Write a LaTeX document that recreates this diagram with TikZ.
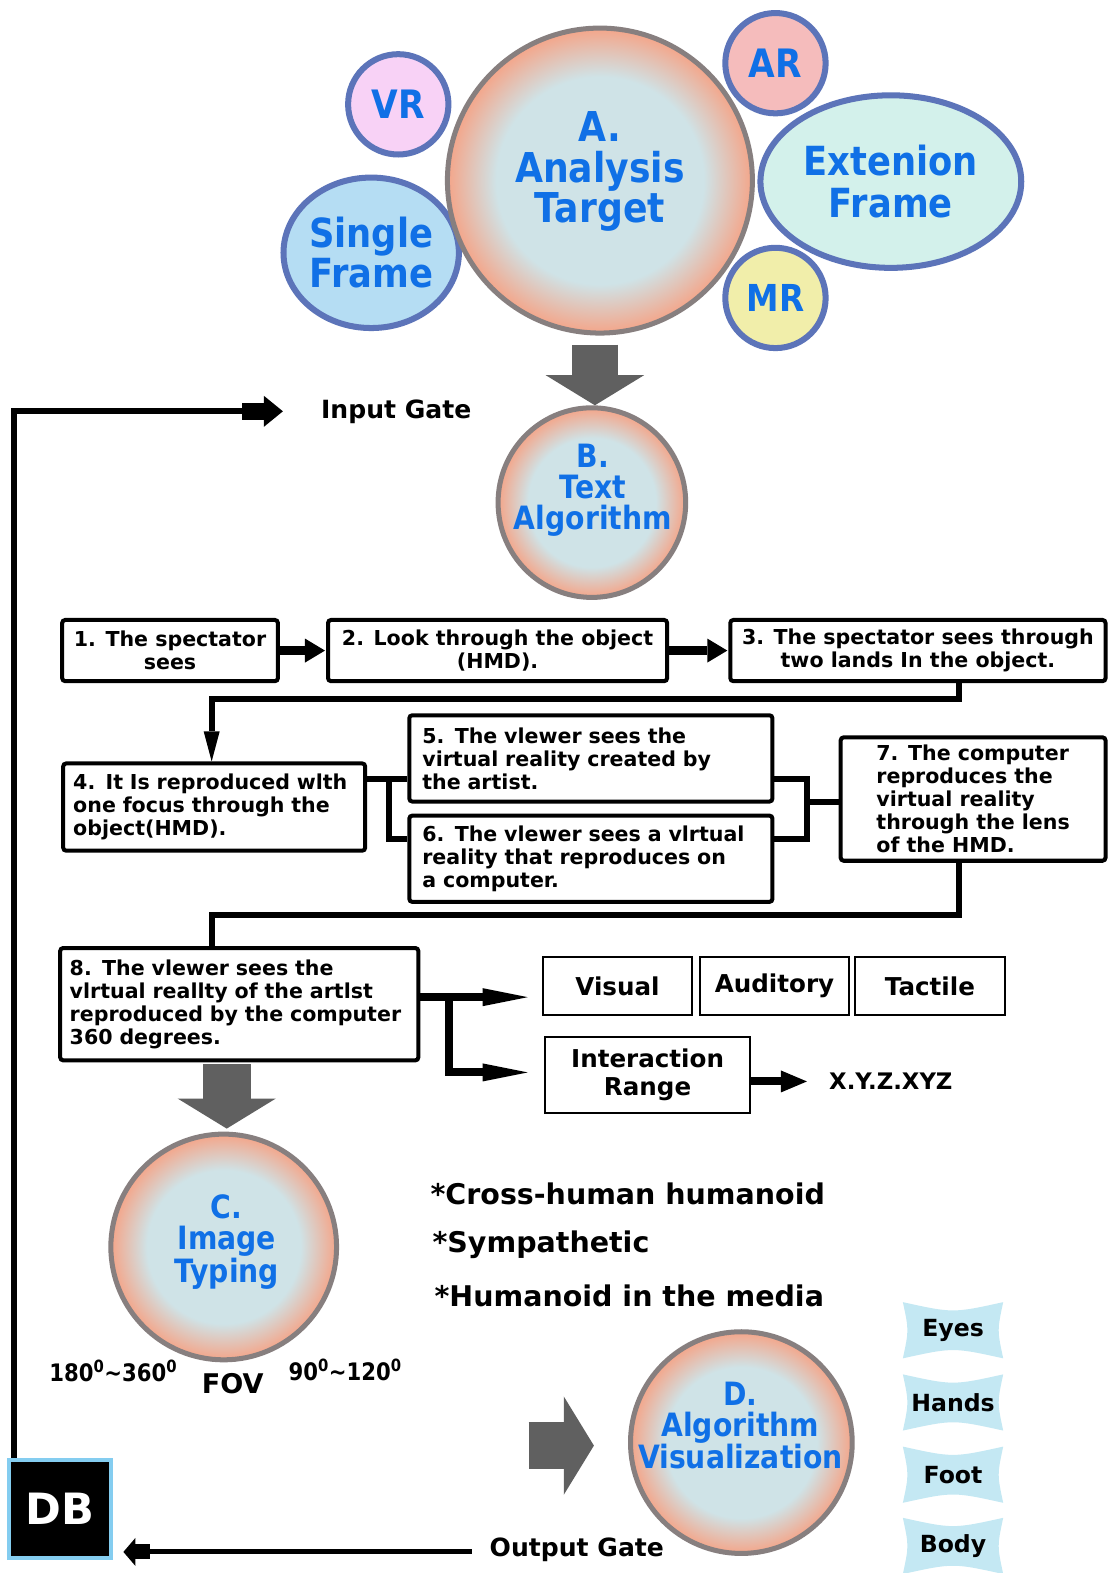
\documentclass[tikz,border=0pt]{standalone}
\usepackage{fontspec}
\setmainfont{DejaVu Sans}
\newfontfamily\headfont{DejaVu Sans}[FakeStretch=0.88]
\usetikzlibrary{arrows.meta,shapes.geometric}

\definecolor{ballin}{HTML}{CFE3E7}
\definecolor{ballout}{HTML}{F4A589}
\definecolor{ballrim}{HTML}{877F7F}
\definecolor{ringblue}{HTML}{5C74B9}
\definecolor{labelblue}{HTML}{1070E6}
\definecolor{vrpink}{HTML}{F8D2F6}
\definecolor{singleblue}{HTML}{B5DDF3}
\definecolor{arrose}{HTML}{F5BCBC}
\definecolor{extmint}{HTML}{D3F1EB}
\definecolor{mryellow}{HTML}{F1EEAA}
\definecolor{blockgray}{HTML}{606060}
\definecolor{tagblue}{HTML}{C4E8F3}
\definecolor{dbrim}{HTML}{84CDF0}

% light core fading into a salmon rim
\pgfdeclareradialshading{ballshade}{\pgfpoint{0bp}{0bp}}{color(0bp)=(ballin); color(17bp)=(ballin); color(25bp)=(ballout); color(50bp)=(ballout)}

% concave-sided tag: name, x, y, text
\newcommand\limbtag[4]{%
  \fill[tagblue] (#2-50,#3-28) .. controls (#2,#3-17) .. (#2+50,#3-28)
     .. controls (#2+44,#3) .. (#2+50,#3+28)
     .. controls (#2,#3+17) .. (#2-50,#3+28)
     .. controls (#2-44,#3) .. cycle;
  \node[tagtext] (#1) at (#2,#3) {#4};}

\begin{document}
\begin{tikzpicture}[x=1pt, y=-1pt,
  ball/.style={ellipse, draw=ballrim, line width=5pt, shading=ballshade, inner sep=0pt},
  bubble/.style={ellipse, draw=ringblue, line width=6pt, inner sep=0pt, text=labelblue, align=center},
  bigblue/.style={text=labelblue, align=center, inner sep=0pt, font=\headfont\bfseries\fontsize{41}{40}\selectfont},
  midblue/.style={text=labelblue, align=center, inner sep=0pt, font=\headfont\bfseries\fontsize{32}{31}\selectfont},
  stepbox/.style={draw=black, fill=white, line width=4pt, rounded corners=3pt, inner sep=0pt, font=\bfseries\fontsize{20.5}{23}\selectfont},
  sensebox/.style={draw=black, line width=2pt, inner sep=0pt, align=center, font=\bfseries\fontsize{24.5}{28}\selectfont},
  gatetext/.style={inner sep=0pt, font=\bfseries\fontsize{25}{28}\selectfont},
  listtext/.style={inner sep=0pt, anchor=west, font=\bfseries\fontsize{28.4}{30}\selectfont},
  fovtext/.style={inner sep=0pt, font=\headfont\bfseries\fontsize{24}{26}\selectfont},
  tagtext/.style={inner sep=0pt, font=\bfseries\fontsize{23.5}{26}\selectfont},
  conn/.style={draw=black, line width=6pt},
  fatarrow/.style={draw=black, line width=9pt, -{Triangle[length=20pt,width=24pt,line width=0pt]}},
  longarrow/.style={draw=black, line width=8pt, -{Triangle[length=45pt,width=18pt,line width=0pt]}},
  gatearrow/.style={draw=black, line width=6pt, -{Rectangle[length=22pt,width=17pt,sep=0pt,line width=0pt]Triangle[length=19pt,width=31pt,sep=0pt,line width=0pt]}},
  blockarrow/.style={draw=blockgray, line width=46pt, -{Triangle[length=30pt,width=98pt,line width=0pt]}}
]
\fill[white] (0,0) rectangle (1106,1568);
\useasboundingbox (0,0) rectangle (1106,1568);

% ---- analysis target cluster ----
\node[bubble, fill=vrpink, minimum width=100pt, minimum height=100pt, font=\headfont\bfseries\fontsize{39}{40}\selectfont] (VR) at (397,104) {VR};
\node[bubble, fill=singleblue, minimum width=152pt, minimum height=150pt, font=\headfont\bfseries\fontsize{40}{40}\selectfont] (single) at (370,252) {Single\\Frame};
\node[bubble, fill=arrose, minimum width=100pt, minimum height=100pt, font=\headfont\bfseries\fontsize{39}{40}\selectfont] (AR) at (773,63) {AR};
\node[bubble, fill=extmint, minimum width=260pt, minimum height=172pt, font=\headfont\bfseries\fontsize{40}{42}\selectfont] (ext) at (888,181) {Extenion\\Frame};
\node[bubble, fill=mryellow, minimum width=100pt, minimum height=100pt, font=\headfont\bfseries\fontsize{37}{40}\selectfont] (MR) at (773,297) {MR};
\node[ball, minimum width=304pt, minimum height=304pt] (A) at (598,180) {};
\node[bigblue] (Atext) at (598,171) {A.\\Analysis\\Target};

% ---- text algorithm ----
\node[ball, minimum width=187pt, minimum height=189pt] (B) at (590,501) {};
\node[midblue] (Btext) at (591,489) {B.\\Text\\Algorithm};
\coordinate (abx) at (593,374);
\draw[blockarrow, shorten <=9pt] (A.south -| abx) -- (B.north -| abx);

% ---- input gate ----
\node[gatetext] (ingate) at (395,410) {Input Gate};
\coordinate (inTip) at (282,410);
\coordinate (loopX) at (14,410);

% ---- process boxes ----
\node[stepbox, align=center, minimum width=215pt, minimum height=61pt] (s1) at (169.5,648.5) {1. The spectator\\sees};
\node[stepbox, align=center, minimum width=338pt, minimum height=61pt] (s2) at (496,648.5) {2. Look through the object\\(HMD).};
\node[stepbox, align=center, minimum width=374pt, minimum height=61pt] (s3) at (915,648.5) {3. The spectator sees through\\two lands In the object.};
\node[stepbox, align=left, minimum width=301pt, minimum height=87pt, text width=281pt] (s4) at (213.5,804.5) {4. It Is reproduced wlth\\one focus through the\\object(HMD).};
\node[stepbox, align=left, minimum width=362pt, minimum height=86pt, text width=336pt] (s5) at (589,756) {5. The vlewer sees the\\virtual reality created by\\the artist.};
\node[stepbox, align=left, minimum width=362pt, minimum height=86pt, text width=336pt] (s6) at (589,856) {6. The vlewer sees a vlrtual\\reality that reproduces on\\a computer.};
\node[stepbox, align=left, minimum width=264pt, minimum height=123pt] (s7) at (970,796.5) {7. The computer\\reproduces the\\virtual reality\\through the lens\\of the HMD.};
\node[stepbox, align=left, minimum width=357pt, minimum height=112pt, text width=338pt] (s8) at (238.5,1001) {8. The vlewer sees the\\vlrtual reallty of the artlst\\reproduced by the computer\\360 degrees.};

\draw[fatarrow, shorten >=1pt] (s1.east) -- (s2.west);
\draw[fatarrow, shorten >=1pt] (s2.east) -- (s3.west);

\coordinate (c3) at (956,697);
\coordinate (c4) at (211,697);
\draw[conn, -{Triangle[length=30pt,width=16pt,line width=0pt]}] (s3.south -| c3) -- (c3) -- (c4) -- (s4.north -| c4);

\coordinate (j45) at (388,777);
\coordinate (j46) at (388,836);
\draw[conn] (s4.east |- j45) -- (s5.west |- j45);
\draw[conn] (j45) -- (j46) -- (s6.west |- j46);

\coordinate (j57) at (804,777);
\coordinate (j67) at (804,836);
\coordinate (j7) at (804,799);
\draw[conn] (s5.east |- j57) -- (j57) -- (j67) -- (s6.east |- j67);
\draw[conn] (j7) -- (s7.west |- j7);

\coordinate (k7) at (956,912);
\coordinate (k8) at (211,912);
\draw[conn] (s7.south -| k7) -- (k7) -- (k8) -- (s8.north -| k8);

% ---- senses and interaction ----
\node[sensebox, minimum width=149pt, minimum height=58pt] (visual) at (615.5,983) {Visual};
\node[sensebox, minimum width=148pt, minimum height=58pt] (auditory) at (772,983) {Auditory};
\node[sensebox, minimum width=150pt, minimum height=58pt] (tactile) at (927,983) {Tactile};
\node[sensebox, minimum width=205pt, minimum height=75pt] (inter) at (645.5,1071.5) {Interaction\\Range};
\node[inner sep=0pt, font=\bfseries\fontsize{22.7}{25}\selectfont] (xyz) at (888,1078) {X.Y.Z.XYZ};

\coordinate (k9) at (448,994);
\coordinate (k10) at (448,1069);
\draw[longarrow, shorten >=14pt] (s8.east |- k9) -- (visual.west |- k9);
\draw[longarrow, shorten >=16pt] (k9) -- (k10) -- (inter.west |- k10);
\draw[draw=black, line width=8pt, -{Triangle[length=26pt,width=22pt,line width=0pt]}, shorten >=22pt] (inter.east |- xyz) -- (xyz.west);

% ---- image typing ----
\node[ball, minimum width=225pt, minimum height=225pt] (C) at (223,1243) {};
\node[midblue] (Ctext) at (226,1238) {C.\\Image\\Typing};
\coordinate (cx) at (226,1090);
\draw[blockarrow, line width=48pt, shorten <=2pt, shorten >=3pt] (s8.south -| cx) -- (C.north -| cx);

\node[fovtext] (fovL) at (113,1367) {180\textsuperscript{0}\textasciitilde 360\textsuperscript{0}};
\node[inner sep=0pt, font=\bfseries\fontsize{27}{29}\selectfont] (fov) at (232,1379) {FOV};
\node[fovtext] (fovR) at (344,1366) {90\textsuperscript{0}\textasciitilde 120\textsuperscript{0}};

% ---- humanoid notes ----
\node[listtext] (n1) at (429,1190) {*Cross-human humanoid};
\node[listtext] (n2) at (431,1241) {*Sympathetic};
\node[listtext] (n3) at (433,1292) {*Humanoid in the media};

% ---- algorithm visualization ----
\node[ball, minimum width=221pt, minimum height=221pt] (D) at (739,1438) {};
\node[midblue] (Dtext) at (738,1421) {D.\\Algorithm\\Visualization};
\coordinate (dtail) at (527,1441);
\draw[blockarrow, line width=47pt, shorten >=34pt] (dtail) -- (D.west |- dtail);

\limbtag{eyes}{950}{1326}{Eyes}
\limbtag{hands}{950}{1398}{Hands}
\limbtag{foot}{950}{1470}{Foot}
\limbtag{body}{950}{1541}{Body}

% ---- database and gates ----
\node[draw=dbrim, fill=black, line width=4pt, minimum width=102pt, minimum height=98pt, inner sep=0pt, text=white, font=\bfseries\fontsize{43}{45}\selectfont] (DB) at (60,1504) {DB};
\draw[gatearrow] (DB.north -| loopX) -- (loopX) -- (inTip);

\node[gatetext] (outgate) at (575,1545) {Output Gate};
\coordinate (outStart) at (470,1547);
\draw[draw=black, line width=5pt, -{Rectangle[length=15pt,width=15pt,sep=0pt,line width=0pt]Triangle[length=12pt,width=28pt,sep=0pt,line width=0pt]}, shorten >=10pt] (outStart) -- (DB.east |- outStart);
\end{tikzpicture}
\end{document}
